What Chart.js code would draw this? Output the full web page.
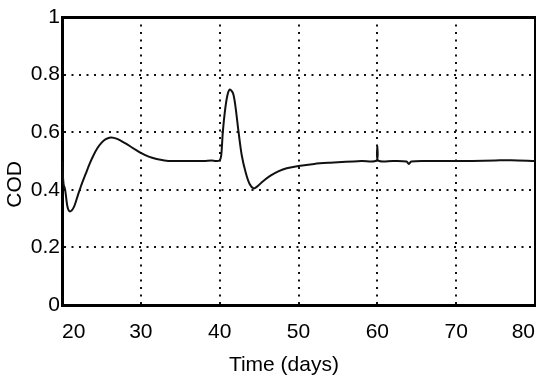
<!DOCTYPE html>
<html>
<head>
<meta charset="utf-8">
<script src="https://cdn.jsdelivr.net/npm/chart.js@4"></script>
<style>
  body { margin: 0; background: #fff; }
  #wrap { width: 550px; height: 382px; }
</style>
</head>
<body>
<div id="wrap"><canvas id="codChart"></canvas></div>
<script>
// values
const timeDays = [20.0, 20.2, 20.4, 20.7, 21.0, 21.5, 22.0, 22.5, 23.0, 23.5, 24.0, 24.5, 25.0, 25.5, 26.2,
    27.0, 28.0, 29.0, 30.0, 31.0, 32.0, 33.0, 34.0, 36.0, 38.0, 39.0, 39.5, 40.0, 40.2, 40.4, 40.7,
    41.0, 41.3, 41.7, 42.0, 42.4, 42.8, 43.3, 43.8, 44.3, 44.7, 45.5, 46.5, 47.5, 48.5, 50.0, 52.0,
    54.0, 56.0, 58.0, 59.9, 60.0, 60.1, 62.0, 63.7, 64.0, 64.3, 66.0, 70.0, 72.0, 75.0, 77.0, 80.0];
const codValues = [0.50, 0.42, 0.40, 0.34, 0.325, 0.34, 0.38, 0.42, 0.455, 0.49, 0.52, 0.545, 0.563, 0.575, 0.582,
    0.577, 0.562, 0.545, 0.528, 0.515, 0.507, 0.502, 0.500, 0.500, 0.500, 0.502, 0.500, 0.502, 0.52, 0.60, 0.68,
    0.73, 0.748, 0.735, 0.69, 0.60, 0.52, 0.46, 0.42, 0.405, 0.41, 0.43, 0.45, 0.465, 0.475, 0.483, 0.490,
    0.494, 0.497, 0.500, 0.502, 0.55, 0.502, 0.500, 0.498, 0.49, 0.498, 0.500, 0.500, 0.500, 0.502, 0.503, 0.500];
const xTicks = [20, 30, 40, 50, 60, 70, 80];
const yTicks = [0, 0.2, 0.4, 0.6, 0.8, 1];

const points = timeDays.map((t, i) => ({ x: t, y: codValues[i] }));
const font = { family: 'Liberation Sans, Arial, sans-serif', size: 21 };
const dotted = {
    color: '#111',
    lineWidth: 2,
    drawTicks: false
};
// trailing no-break spaces nudge the axis titles off-centre like in the original
const pad = n => '\u00a0'.repeat(n);

const ctx = document.getElementById('codChart').getContext('2d');
new Chart(ctx, {
    type: 'line',
    data: {
        datasets: [{
            data: points,
            borderColor: '#111',
            borderWidth: 2,
            pointRadius: 0,
            tension: 0.3,
            fill: false
        }]
    },
    options: {
        responsive: true,
        maintainAspectRatio: false,
        animation: false,
        layout: { padding: { top: 17, right: 15, left: 0, bottom: 0 } },
        plugins: { legend: { display: false }, tooltip: { enabled: false } },
        scales: {
            x: {
                type: 'linear',
                min: 20,
                max: 80,
                afterBuildTicks: s => { s.ticks = xTicks.map(v => ({ value: v })); },
                afterFit: s => { s.height = 77; },
                grid: dotted,
                border: { display: true, color: '#000', width: 3, dash: [2, 5.5] },
                ticks: { color: '#000', font, padding: 15, align: 'inner', maxRotation: 0 },
                title: { display: true, text: 'Time (days)' + pad(5), color: '#000', font, padding: { top: 0 } }
            },
            y: {
                type: 'linear',
                min: 0,
                max: 1,
                afterBuildTicks: s => { s.ticks = yTicks.map(v => ({ value: v })); },
                afterFit: s => { s.width = 62; },
                grid: dotted,
                border: { display: true, color: '#000', width: 3, dash: [2, 5.5] },
                ticks: { color: '#000', font, padding: 2, callback: v => String(Number(v.toFixed(1))) },
                title: { display: true, text: 'COD' + pad(8), color: '#000', font, padding: { top: 3, bottom: 0 } }
            },
            xTop: {
                type: 'linear',
                position: 'top',
                min: 20,
                max: 80,
                afterFit: s => { s.height = 0; },
                grid: { display: false, drawTicks: false },
                border: { display: true, color: '#000', width: 3 },
                ticks: { display: false }
            },
            yRight: {
                type: 'linear',
                position: 'right',
                min: 0,
                max: 1,
                afterFit: s => { s.width = 0; },
                grid: { display: false, drawTicks: false },
                border: { display: true, color: '#000', width: 2 },
                ticks: { display: false }
            }
        }
    }
});
</script>
</body>
</html>
